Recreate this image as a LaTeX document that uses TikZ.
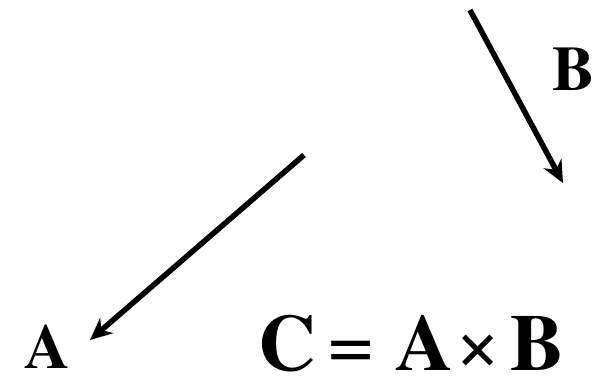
\documentclass[tikz,border=0pt]{standalone}
\usepackage{fontspec}
\setmainfont{TeX Gyre Termes}
\usetikzlibrary{arrows.meta}
\tikzset{
  vec/.style={line width=5.5pt, -{Stealth[length=22pt,width=20pt,inset=7pt]}},
  lbl/.style={font=\fontsize{63}{63}\selectfont\bfseries, inner sep=0pt, anchor=base, text depth=0pt},
  eq/.style={font=\fontsize{80}{80}\selectfont\bfseries, inner sep=0pt, anchor=base, text depth=0pt},
  eqs/.style={font=\fontsize{80}{80}\selectfont, inner sep=0pt, anchor=base, text depth=0pt}
}
\begin{document}
\begin{tikzpicture}[x=1pt,y=-1pt]
\useasboundingbox (0,0) rectangle (609,375);
\coordinate (a0) at (304,155);
\coordinate (a1) at (90,340);
\coordinate (b0) at (470,10);
\coordinate (b1) at (563,183);
\draw[vec] (a0) -- (a1);
\draw[vec] (b0) -- (b1);
\node[lbl] (la) at (47,368) {A};
\node[lbl] (lb) at (573,90) {B};
\node[eq] (c) at (287,370) {C};
\node[eqs] (eqsign) at (351,370) {=};
\node[eq] (ea) at (424,370) {A};
\node[eqs] (times) at (478,370) {×};
\node[eq] (eb) at (537,370) {B};
\end{tikzpicture}
\end{document}
